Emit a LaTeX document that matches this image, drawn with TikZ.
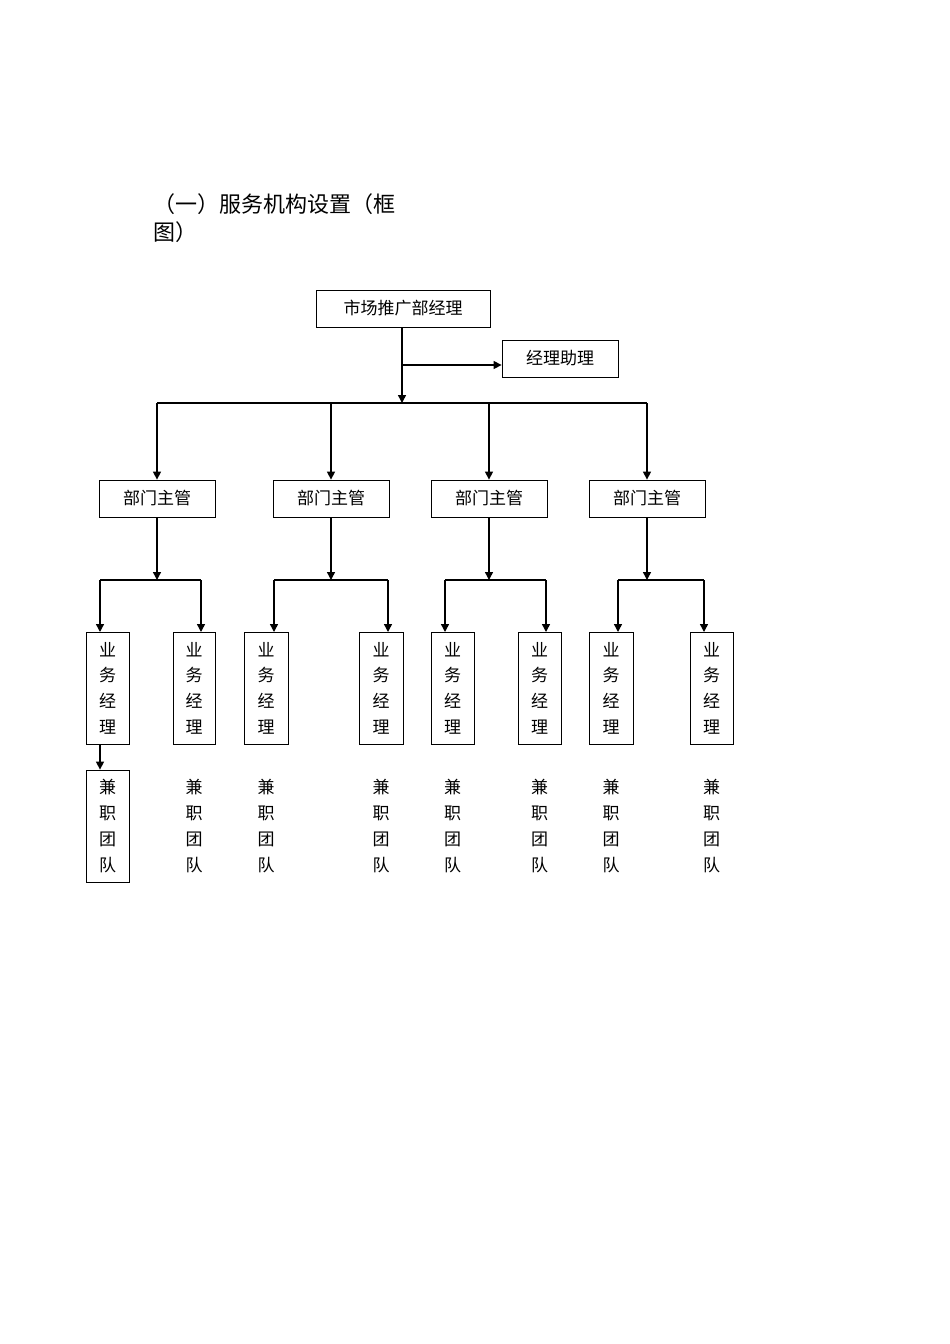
\documentclass[tikz,border=0pt]{standalone}
\usepackage{fontspec}
\setmainfont{Noto Sans CJK SC}
\usetikzlibrary{arrows.meta}
\begin{document}
\begin{tikzpicture}[x=1pt,y=-1pt,
  box/.style={draw,line width=0.8pt,inner sep=0pt,font=\fontsize{17}{25.7}\selectfont,align=center},
  vtext/.style={inner sep=0pt,font=\fontsize{17}{25.7}\selectfont,align=center},
  arr/.style={line width=1.4pt,-{Triangle[length=8pt,width=8pt]}},
  ln/.style={line width=1.2pt}]
\useasboundingbox (0,0) rectangle (950,1344);
\node[anchor=base west,font=\fontsize{22}{28}\selectfont] (t1) at (150,212) {（一）服务机构设置（框};
\node[anchor=base west,font=\fontsize{22}{28}\selectfont] (t2) at (150,240) {图）};
\node[box,minimum width=174pt,minimum height=37pt] (top) at (403,308.5) {市场推广部经理};
\node[box,minimum width=116pt,minimum height=37pt] (asst) at (560,358.5) {经理助理};
\coordinate (hub) at (402,403);
\draw[arr] (top.south -| hub) -- (hub);
\coordinate (hm) at (402,365);
\draw[arr] (hm) -- (asst.west |- hm);
\draw[ln] (157,403) -- (647,403);
\foreach \i/\c in {1/157,2/331,3/489,4/647}{
  \node[box,minimum width=116pt,minimum height=37pt] (d\i) at (\c,498.5) {部门主管};
  \coordinate (b\i) at (\c,403);
  \coordinate (s\i) at (\c,580);
  \draw[arr] (b\i) -- (d\i.north);
  \draw[arr] (d\i.south) -- (s\i);
}
\foreach \j/\l/\r/\a in {1/86/129/100,2/173/215/201,3/244/288/274,4/359/403/388,5/431/474/445,6/518/561/546,7/589/633/618,8/690/733/704}{
  \node[box,minimum width={\r-\l},minimum height=112pt] (m\j) at ({(\l+\r)/2},688) {业\\务\\经\\理};
  \coordinate (ma\j) at (\a,580);
  \draw[arr] (ma\j) -- (\a,632);
}
\draw[ln] (100,580) -- (201,580);
\draw[ln] (274,580) -- (388,580);
\draw[ln] (445,580) -- (546,580);
\draw[ln] (618,580) -- (704,580);
\node[box,minimum width=43pt,minimum height=112pt] (p1) at (107.5,826) {兼\\职\\团\\队};
\draw[arr] (m1.south -| 100,0) -- (p1.north -| 100,0);
\foreach \j/\c in {2/194,3/266,4/381,5/452.5,6/539.5,7/611,8/711.5}{
  \node[vtext] (p\j) at (\c,826) {兼\\职\\团\\队};
}
\end{tikzpicture}
\end{document}
